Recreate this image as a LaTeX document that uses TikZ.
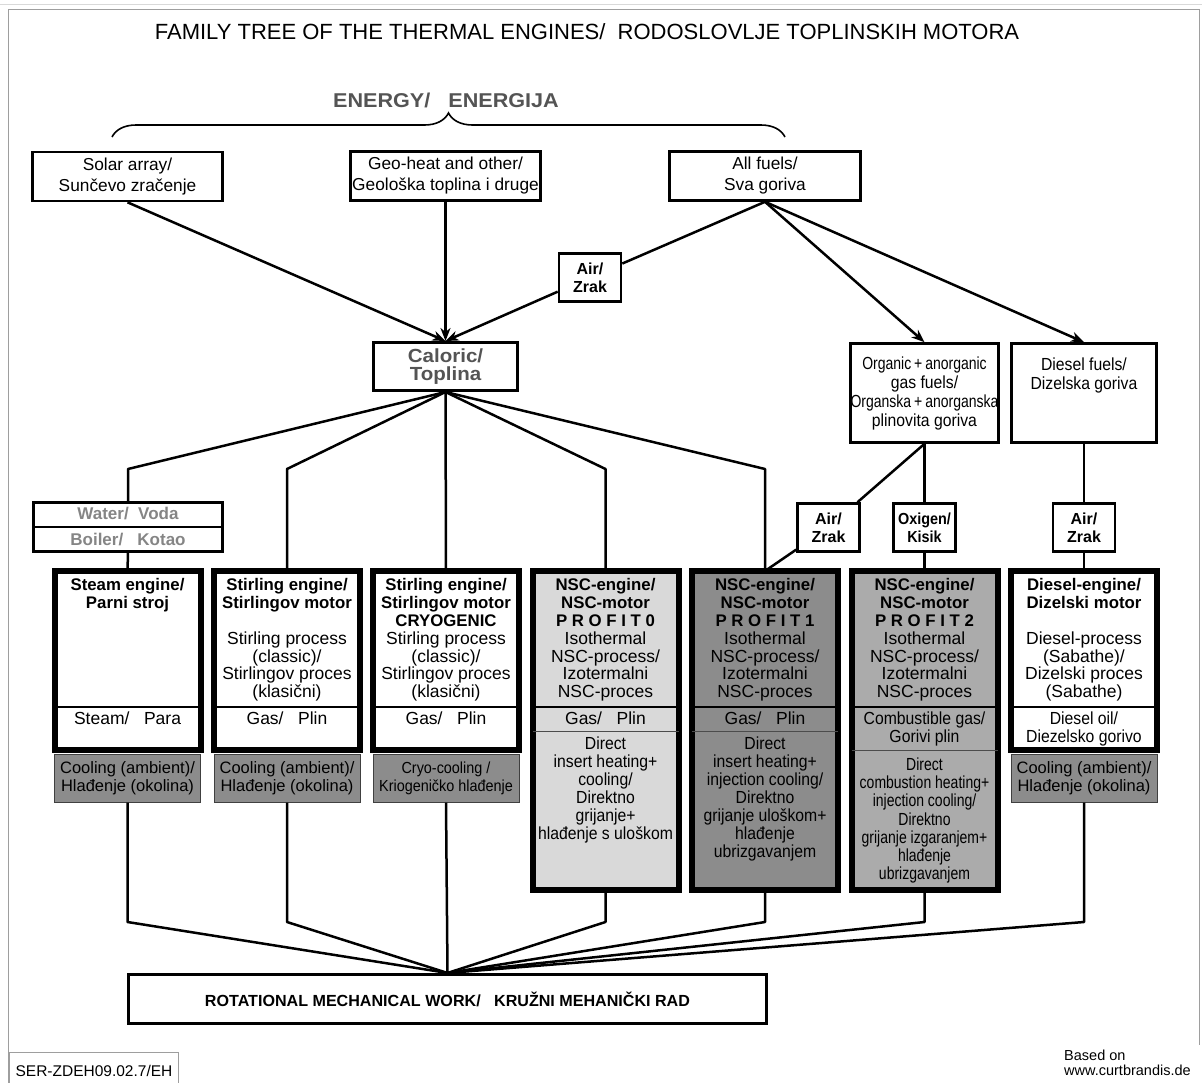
\documentclass[tikz,border=0pt]{standalone}
\usepackage{fontspec}
\setmainfont{Liberation Sans}
\newfontfamily\narrowfont[FakeStretch=0.9]{Liberation Sans}
\newfontfamily\tightfont[FakeStretch=0.8]{Liberation Sans}
\newfontfamily\widefont[FakeStretch=1.08]{Liberation Sans}
\usetikzlibrary{arrows.meta,decorations.pathreplacing,calc}

\newcommand{\fsz}[2]{\fontsize{#1}{#2}\selectfont}
\newcommand{\hd}{\bfseries\fsz{16.8}{17.8}}

\definecolor{pzerogray}{gray}{0.85}
\definecolor{ponegray}{gray}{0.55}
\definecolor{ptwogray}{gray}{0.67}
\definecolor{coolgray}{gray}{0.55}
\definecolor{ink}{gray}{0.33}
\definecolor{pale}{gray}{0.52}
\definecolor{framegray}{gray}{0.62}

\tikzset{
  src/.style={draw, line width=2.6pt, fill=white, minimum width=190pt, minimum height=49pt,
    inner sep=0pt, align=center, font=\fsz{17.3}{21}},
  gate/.style={draw, line width=2.6pt, fill=white, minimum width=62pt, minimum height=48pt,
    inner sep=0pt, align=center, font=\bfseries\fsz{16}{18}},
  fuelbox/.style={draw, line width=2.6pt, fill=white, minimum width=145pt, minimum height=99pt,
    inner sep=0pt, align=center, font=\narrowfont\fsz{17.5}{19}},
  engine/.style={draw, line width=6pt, minimum width=146pt, anchor=north, inner sep=0pt, outer sep=0pt},
  txt/.style={anchor=north, inner sep=0pt, align=center, font=\fsz{17.5}{17.8}},
  cooling/.style={draw=black!75, line width=1pt, fill=coolgray, minimum width=146pt, minimum height=48pt,
    inner sep=0pt, align=center, font=\fsz{16.5}{18}},
  wire/.style={line width=2.5pt, line join=round},
  feed/.style={wire, -{Stealth[length=13pt,width=10pt,inset=4pt]}},
  split/.style={line width=2pt},
  seam/.style={line width=0.8pt, black!70},
}

\begin{document}
\begin{tikzpicture}[x=1pt, y=-1pt]
  \useasboundingbox (0,0) rectangle (1202,1082);

  % Frame and title
  \draw[black!15, line width=1pt] (0,4) -- (1202,4);
  \draw[framegray, line width=1pt] (8.5,1090) -- (8.5,9) -- (1199,9) -- (1199,1045);
  \node[font=\fsz{22}{24}] (title) at (587,32)
    {FAMILY TREE OF THE THERMAL ENGINES/\ \ RODOSLOVLJE TOPLINSKIH MOTORA};

  % Energy sources
  \node[font=\widefont\bfseries\fsz{20}{22}, text=ink] (energy) at (446,100) {ENERGY/\ \ \ ENERGIJA};
  \draw[line width=1.6pt, decorate, decoration={brace, amplitude=24pt}] (112,137) -- (785,137);

  \node[src] (solar) at (127.5,176.5) {Solar array/\\Sunčevo zračenje};
  \node[src] (geo) at (445.5,176) {Geo-heat and other/\\Geološka toplina i druge};
  \node[src, minimum width=191pt] (fuels) at (765,176) {All fuels/\\Sva goriva};

  \node[gate] (air1) at (590,277.5) {Air/\\Zrak};
  \node[draw, line width=3pt, minimum width=144pt, minimum height=48pt, inner sep=0pt, align=center,
    text=ink, font=\widefont\bfseries\fsz{19}{18.5}] (cal) at (445.5,366.5) {Caloric/\\Toplina};

  \node[fuelbox] (organic) at (924.5,393)
    {{\tightfont Organic\,+\,anorganic}\\gas fuels/\\{\tightfont Organska\,+\,anorganska}\\plinovita goriva};
  \node[fuelbox] (dfuel) at (1084,393) {Diesel fuels/\\Dizelska goriva\\~\\~};

  \draw[feed] (solar.south) -- (cal.north);
  \draw[feed] (geo.south) -- (cal.north);
  \draw[wire] (fuels.south) -- (air1);
  \draw[feed] (air1) -- (cal.north);
  \draw[feed] (fuels.south) -- (organic.north);
  \draw[feed] (fuels.south) -- (dfuel.north);

  % Working media
  \node[gate] (air2) at (828.5,527.5) {Air/\\Zrak};
  \node[gate, font=\narrowfont\bfseries\fsz{16}{18}] (oxy) at (924.5,527.5) {Oxigen/\\Kisik};
  \node[gate] (air3) at (1084,527.5) {Air/\\Zrak};
  \node[draw, line width=2.6pt, minimum width=189pt, minimum height=49pt, inner sep=0pt, align=center,
    text=pale, font=\bfseries\fsz{17}{26}] (water) at (128,527) {Water/\ \ Voda\\Boiler/\ \ \ Kotao};
  \draw[split] (water.west) -- (water.east);

  \draw[wire] (organic.south) -- (air2);
  \draw[wire] (organic.south) -- (oxy.north);
  \draw[wire] (dfuel.south) -- (air3.north);

  \coordinate (fork) at (0,469);
  \coordinate (headline) at (0,578.5);
  \coordinate (gasline) at (0,711.5);
  \coordinate (knee) at (0,922);

  \draw[wire] (cal.south) -- (water.north |- fork) -- (water.north);
  \draw[wire] (cal.south) -- (287,469) -- (287,571);
  \draw[wire] (cal.south) -- (446,571);
  \draw[wire] (cal.south) -- (605.5,469) -- (605.5,571);
  \draw[wire] (cal.south) -- (765,469) -- (765,571);

  % Engines
  \node[engine, minimum height=179pt, fill=white] (steam) at (127.5,571) {};
  \node[engine, minimum height=179pt, fill=white] (stirling) at (287,571) {};
  \node[engine, minimum height=179pt, fill=white] (cryo) at (446,571) {};
  \node[engine, minimum height=319pt, fill=pzerogray] (pzero) at (605.5,571) {};
  \node[engine, minimum height=319pt, fill=ponegray] (pone) at (765,571) {};
  \node[engine, minimum height=319pt, fill=ptwogray] (ptwo) at (924.5,571) {};
  \node[engine, minimum height=179pt, fill=white] (diesel) at (1084,571) {};

  \draw[wire] (water.south) -- (steam.north);
  \draw[wire] (air2) -- (pone.north);
  \draw[wire] (oxy.south) -- (ptwo.north);
  \draw[wire] (air3.south) -- (diesel.north);

  \draw[split] (steam.west |- 0,706.5) -- (steam.east |- 0,706.5);
  \draw[split] (stirling.west |- 0,706.5) -- (stirling.east |- 0,706.5);
  \draw[split] (cryo.west |- 0,706.5) -- (cryo.east |- 0,706.5);
  \draw[split] (pzero.west |- 0,706.5) -- (pzero.east |- 0,706.5);
  \draw[split] (pone.west |- 0,706.5) -- (pone.east |- 0,706.5);
  \draw[split] (ptwo.west |- 0,706.5) -- (ptwo.east |- 0,706.5);
  \draw[split] (diesel.west |- 0,706.5) -- (diesel.east |- 0,706.5);
  \draw[seam] (pzero.west |- 0,731) -- (pzero.east |- 0,731);
  \draw[seam] (pone.west |- 0,731) -- (pone.east |- 0,731);
  \draw[seam] (ptwo.west |- 0,750) -- (ptwo.east |- 0,750);

  \node[txt] (steam-t) at (steam.north |- headline) {{\hd Steam engine/}\\{\hd Parni stroj}};
  \node[txt] (stirling-t) at (stirling.north |- headline)
    {{\hd Stirling engine/}\\{\hd Stirlingov motor}\\~\\Stirling process\\(classic)/\\Stirlingov proces\\(klasični)};
  \node[txt] (cryo-t) at (cryo.north |- headline)
    {{\hd Stirling engine/}\\{\hd Stirlingov motor}\\{\hd CRYOGENIC}\\Stirling process\\(classic)/\\Stirlingov proces\\(klasični)};
  \node[txt] (pzero-t) at (pzero.north |- headline)
    {{\hd NSC-engine/}\\{\hd NSC-motor}\\{\hd P R O F I T 0}\\Isothermal\\NSC-process/\\Izotermalni\\NSC-proces};
  \node[txt] (pone-t) at (pone.north |- headline)
    {{\hd NSC-engine/}\\{\hd NSC-motor}\\{\hd P R O F I T 1}\\Isothermal\\NSC-process/\\Izotermalni\\NSC-proces};
  \node[txt] (ptwo-t) at (ptwo.north |- headline)
    {{\hd NSC-engine/}\\{\hd NSC-motor}\\{\hd P R O F I T 2}\\Isothermal\\NSC-process/\\Izotermalni\\NSC-proces};
  \node[txt] (diesel-t) at (diesel.north |- headline)
    {{\hd Diesel-engine/}\\{\hd Dizelski motor}\\~\\Diesel-process\\(Sabathe)/\\Dizelski proces\\(Sabathe)};

  \node[txt] (steam-m) at (steam.north |- gasline) {Steam/\ \ \ Para};
  \node[txt] (stirling-m) at (stirling.north |- gasline) {Gas/\ \ \ Plin};
  \node[txt] (cryo-m) at (cryo.north |- gasline) {Gas/\ \ \ Plin};
  \node[txt] (pzero-m) at (pzero.north |- gasline) {Gas/\ \ \ Plin};
  \node[txt] (pone-m) at (pone.north |- gasline) {Gas/\ \ \ Plin};
  \node[txt, font=\narrowfont\fsz{17.5}{18}] (ptwo-m) at (ptwo.north |- gasline) {Combustible gas/\\Gorivi plin};
  \node[txt, font=\narrowfont\fsz{17.5}{18}] (diesel-m) at (diesel.north |- gasline) {Diesel oil/\\Diezelsko gorivo};

  \node[txt, font=\narrowfont\fsz{17.5}{18}] (pzero-b) at (605.5,736.7)
    {Direct\\insert heating+\\cooling/\\Direktno\\grijanje+\\hlađenje s uloškom};
  \node[txt, font=\narrowfont\fsz{17.5}{18}] (pone-b) at (765,736.7)
    {Direct\\insert heating+\\injection cooling/\\Direktno\\grijanje uloškom+\\hlađenje\\ubrizgavanjem};
  \node[txt, font=\tightfont\fsz{17.5}{18.2}] (ptwo-b) at (924.5,757.7)
    {Direct\\combustion heating+\\injection cooling/\\Direktno\\grijanje izgaranjem+\\hlađenje\\ubrizgavanjem};

  % Cooling
  \node[cooling] (steam-c) at (127.5,778) {Cooling (ambient)/\\Hlađenje (okolina)};
  \node[cooling] (stirling-c) at (287,778) {Cooling (ambient)/\\Hlađenje (okolina)};
  \node[cooling, font=\narrowfont\fsz{16}{18}] (cryo-c) at (446,778) {Cryo-cooling /\\Kriogeničko hlađenje};
  \node[cooling] (diesel-c) at (1084,778) {Cooling (ambient)/\\Hlađenje (okolina)};

  % Output
  \node[draw, line width=2.6pt, minimum width=638pt, minimum height=49.5pt, fill=white,
    font=\bfseries\fsz{16.1}{18}] (work) at (447.5,999)
    {ROTATIONAL MECHANICAL WORK/\ \ \ KRUŽNI MEHANIČKI RAD};

  \draw[wire] (steam-c.south) -- (steam-c.south |- knee) -- (work.north);
  \draw[wire] (stirling-c.south) -- (stirling-c.south |- knee) -- (work.north);
  \draw[wire] (cryo-c.south) -- (work.north);
  \draw[wire] (pzero.south) -- (pzero.south |- knee) -- (work.north);
  \draw[wire] (pone.south) -- (pone.south |- knee) -- (work.north);
  \draw[wire] (ptwo.south) -- (ptwo.south |- knee) -- (work.north);
  \draw[wire] (diesel-c.south) -- (diesel-c.south |- knee) -- (work.north);

  % Footer
  \node[draw=framegray, line width=1pt, minimum width=169pt, minimum height=36pt, anchor=north west,
    font=\fsz{15.5}{17}] (ser) at (9,1052) {SER-ZDEH09.02.7/EH};
  \node[anchor=north west, inner sep=0pt, align=left, font=\fsz{14.5}{15}] (based) at (1064,1050)
    {Based on\\www.curtbrandis.de};
\end{tikzpicture}
\end{document}
